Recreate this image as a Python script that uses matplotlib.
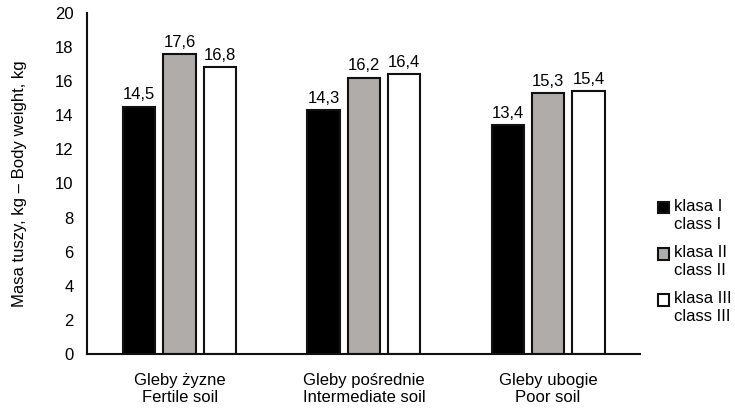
import numpy as np
import matplotlib.pyplot as plt
from matplotlib.patches import Patch, Rectangle
from matplotlib.legend_handler import HandlerBase

plt.rcParams["font.family"] = ["Liberation Sans", "DejaVu Sans"]

# ----------------------------------------------------------
# DATA
# ----------------------------------------------------------

soils = ["Gleby żyzne\nFertile soil",
         "Gleby pośrednie\nIntermediate soil",
         "Gleby ubogie\nPoor soil"]
class_1 = [14.5, 14.3, 13.4]
class_2 = [17.6, 16.2, 15.3]
class_3 = [16.8, 16.4, 15.4]
series_labels = ["klasa I\nclass I", "klasa II\nclass II", "klasa III\nclass III"]


# legend square sitting next to the first text line
class TopSquare(HandlerBase):
    def create_artists(self, legend, orig_handle, xdescent, ydescent,
                       width, height, fontsize, trans):
        s = 0.68 * fontsize
        r = Rectangle((-xdescent, -ydescent + height - s), s, s,
                      facecolor=orig_handle.get_facecolor(),
                      edgecolor=orig_handle.get_edgecolor(),
                      linewidth=orig_handle.get_linewidth(),
                      transform=trans)
        return [r]


# ----------------------------------------------------------
# PLOT
# ----------------------------------------------------------

fig = plt.figure(figsize=(7.35, 4.09), dpi=100)
ax = fig.add_axes([0.119, 0.1345, 0.752, 0.834])

x = np.arange(len(soils))
width = 0.175
step = 0.219
colors = ["#000000", "#b0acaa", "#ffffff"]

for i, (vals, col) in enumerate(zip([class_1, class_2, class_3], colors)):
    bars = ax.bar(x + (i - 1) * step, vals, width, color=col,
                  edgecolor="#111111", linewidth=1.5, label=series_labels[i])
    for b, v in zip(bars, vals):
        ax.text(b.get_x() + b.get_width() / 2, v + 0.25,
                f"{v:.1f}".replace(".", ","),
                ha="center", va="bottom", fontsize=12)

ax.set_xlim(-0.5, 2.5)
ax.set_ylim(0, 20)
ax.set_yticks(range(0, 21, 2))
ax.set_xticks(x)
ax.set_xticklabels(soils, fontsize=12, linespacing=1.1)
ax.tick_params(axis="both", length=0, labelsize=12)
ax.tick_params(axis="x", pad=14)
ax.tick_params(axis="y", pad=10)

for side in ["top", "right"]:
    ax.spines[side].set_visible(False)
for side in ["left", "bottom"]:
    ax.spines[side].set_linewidth(1.5)
    ax.spines[side].set_color("#111111")

ax.set_ylabel("Masa tuszy, kg – Body weight, kg", fontsize=12, labelpad=20)

handles = [Patch(facecolor=c, edgecolor="#111111", linewidth=1.5) for c in colors]
leg = fig.legend(handles, series_labels, loc="upper left",
                 bbox_to_anchor=(0.884, 0.535), frameon=False, fontsize=12,
                 handler_map={Patch: TopSquare()},
                 handlelength=0.7, handleheight=2.2, handletextpad=0.25,
                 labelspacing=0.75, borderpad=0)
for t in leg.get_texts():
    t.set_linespacing(1.3)

plt.savefig("out.png", dpi=100)
